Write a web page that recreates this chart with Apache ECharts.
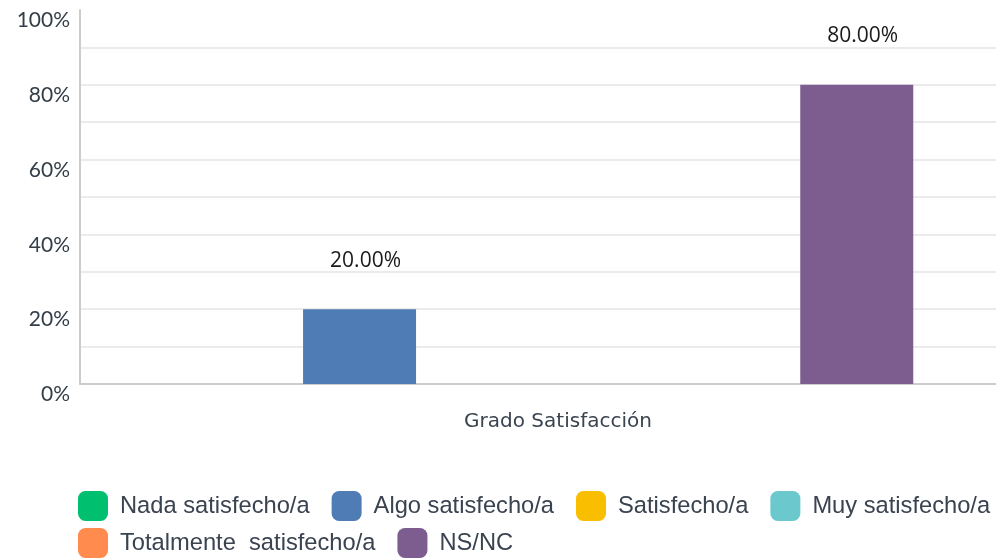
<!DOCTYPE html>
<html>
<head>
<meta charset="utf-8">
<script src="https://cdn.jsdelivr.net/npm/echarts@6/dist/echarts.min.js"></script>
<style>
    * { margin: 0; padding: 0; }
    #main { width: 996px; height: 560px; background: #fff; }
</style>
</head>
<body>
<div id="main"></div>
<script>
    // datos
    const categories = ['Grado Satisfacción']
    const seriesNames = ['Nada satisfecho/a', 'Algo satisfecho/a', 'Satisfecho/a', 'Muy satisfecho/a', 'Totalmente  satisfecho/a', 'NS/NC']
    const values = [0, 20, 0, 0, 0, 80]
    const colors = ['#00bf6f', '#507cb6', '#f9be00', '#6bc8cd', '#ff8b4f', '#7d5d90']

    let myChart = echarts.init(document.getElementById('main'))

    let series = seriesNames.map(function (name, i) {
        return {
            name: name,
            type: 'bar',
            data: [values[i]],
            barWidth: 113,
            barGap: '10%',
            itemStyle: { color: colors[i] },
            label: {
                show: values[i] > 0,
                position: 'top',
                distance: 38,
                offset: [6, 0],
                color: '#1a1a1a',
                fontFamily: 'Open Sans',
                fontSize: 21,
                formatter: function (p) { return p.value.toFixed(2) + '%' }
            }
        }
    })

    let legendStyle = {
        icon: 'roundRect',
        padding: 0,
        itemWidth: 30,
        itemHeight: 30,
        itemGap: 22,
        textStyle: { color: '#3a4350', fontFamily: 'Liberation Sans', fontSize: 23.7, padding: [0, 0, 0, 7] }
    }
    // un poco más de aire tras algunas entradas, como en el original
    let row1 = seriesNames.slice(0, 4).map(function (name, i) {
        return (i === 1 || i === 2) ? { name: name, textStyle: { padding: [0, 8, 0, 7] } } : name
    })

    let option = {
        animation: false,
        color: colors,
        grid: { left: 80, width: 932, top: 10, height: 374, outerBoundsMode: 'none' },
        legend: [
            Object.assign({ left: 78, top: 491, data: row1 }, legendStyle),
            Object.assign({ left: 78, top: 528, data: seriesNames.slice(4) }, legendStyle)
        ],
        xAxis: {
            type: 'category',
            data: categories,
            axisLine: { lineStyle: { color: '#cccccc', width: 2 } },
            axisTick: { show: false },
            axisLabel: {
                margin: 28,
                color: '#3a4450',
                fontFamily: 'DejaVu Sans',
                fontSize: 20,
                padding: [0, 0, 0, 24]
            }
        },
        yAxis: {
            type: 'value',
            min: 0,
            max: 100,
            interval: 10,
            axisLine: { show: true, lineStyle: { color: '#cccccc', width: 2 } },
            axisTick: { show: false },
            splitLine: { show: true, showMaxLine: false, lineStyle: { color: '#ebebeb', width: 2 } },
            axisLabel: {
                margin: 10,
                color: '#333e48',
                fontFamily: 'Lato',
                fontSize: 21,
                verticalAlign: 'top',
                formatter: function (v) { return v % 20 === 0 ? v + '%' : '' }
            }
        },
        series: series
    }
    myChart.setOption(option)
</script>
</body>
</html>
